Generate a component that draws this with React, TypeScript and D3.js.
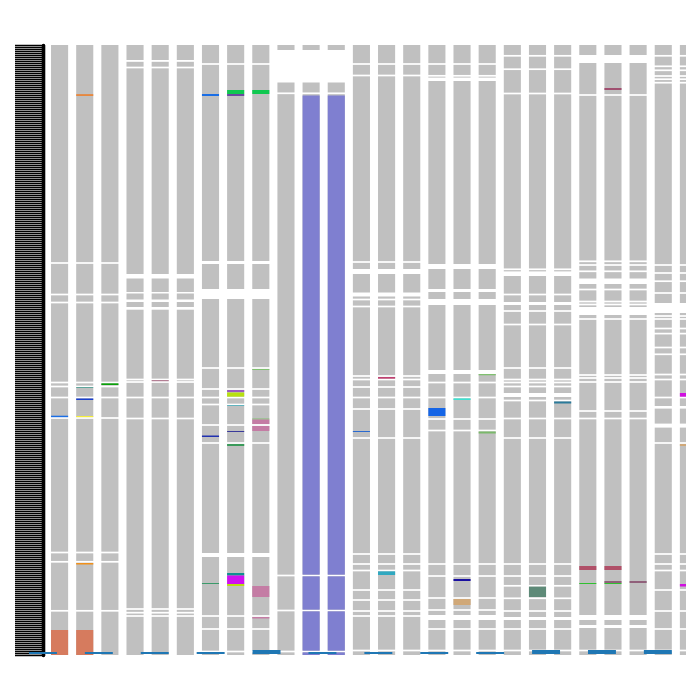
import React, { useRef, useEffect } from "react";
import * as d3 from "d3";

// column names (26 tracks, the last one is cut by the plot edge)
const columnNames = d3.range(1, 27).map((i) => `S${i}`);

// white separators per group of tracks; a number is a thin line, a pair is a wider gap
const gapsA = [218, 249.5, 257.5, 337.5, 341.5, 352.5, 373, 507.5, 516.8, 565.8];
const gapsB = [[15, 16.8], 22.5, [229, 233.5], [247, 248.5], [254.5, 257], [262, 264.7], 334.5, 337, 352.5, 373.5, 564, 567.7, 571];
const gapsC = [19, [216, 219], [244, 254], 323, 344, 352.5, 359.5, 380, 398, [508, 512], 571, 584, 606.5];
const gapsD = [[5, 37.5], 48.3, 530.5, 565.5, 606.5];
const gapsE = [19, 30.5, 217, [224, 229], [247.5, 251.5], 254.5, 261.5, 331, 334.5, 342, 352.5, 364, 393, 509, 519, 525.5, 545, 555, 566, 571, 605.5];
const gapsF = [19, 30.8, [32.6, 36], [219, 224], [244, 247], [254, 260], [325, 329], 337.5, 352.5, 374, 385.5, 519, 531, 553, 565, [570, 575], 584, 605.5];
const gapsG = [10.8, 24.2, 48.5, 224.3, [226.4, 231], 249.5, [257, 260], 266, 279.5, 323, 334.5, 337.5, 341.5, [348, 352], 355.5, 373.5, 393, 519, 531, 540.8, 553.3, 566, [572, 575], 584, 605.5];
const gapsH = [[10, 18], 50, 216.3, 220, 226.3, [233.5, 239], 244.5, 256.5, 259.5, [262, 270], 274, 330, 333, 337, 366, 373.5, [570, 575], [580, 583], 605.5];
const gapsI = [10.8, 21.3, 25.3, 31, 34.2, 37.7, 220, 228, 236.2, 248, [258, 268], 271, 274, 283.5, 288.6, 302.5, 309.3, 329.5, 334.5, 352.5, [361, 363.6], [378.6, 382.6], 398, 509, 519, 525.5, 545, 566, 584, 605.5];

const columnGaps = [
    gapsA, gapsA, gapsA, gapsB, gapsB, gapsB, gapsC, gapsC, gapsC,
    gapsD, gapsD, gapsD, gapsE, gapsE, gapsE, gapsF, gapsF, gapsF,
    gapsG, gapsG, gapsG, gapsH, gapsH, gapsH, gapsI, gapsI,
];

// coloured features: [column, start, end, colour]
const features: [string, number, number, string][] = [
    ["S1", 370.7, 372.7, "#1a6ee6"], ["S1", 585, 610, "#d67b5e"],
    ["S2", 49.3, 50.8, "#f07a20"], ["S2", 342, 343, "#1d8a7a"], ["S2", 353.5, 355, "#1a3fcc"],
    ["S2", 371, 372.8, "#f5ee3a"], ["S2", 518, 519.5, "#f0901a"], ["S2", 585, 610, "#d67b5e"],
    ["S3", 338, 340, "#0aa00a"],
    ["S5", 335, 337, "#a05070"],
    ["S7", 49, 51, "#1a6ee6"], ["S7", 390.5, 392, "#2030b0"], ["S7", 538, 539, "#3a9a6a"],
    ["S8", 45, 49, "#10c850"], ["S8", 49, 51, "#6a4aa0"], ["S8", 345, 347, "#9a5ac0"],
    ["S8", 347.5, 352, "#b8e010"], ["S8", 360, 361, "#20a0b0"], ["S8", 386, 387, "#3a3a9a"],
    ["S8", 399, 401, "#3a9a5a"], ["S8", 528, 530.5, "#109090"], ["S8", 530.5, 539, "#d010f0"],
    ["S8", 539, 541, "#b8e010"],
    ["S9", 45, 49, "#10c850"], ["S9", 324, 325, "#80c070"], ["S9", 373.5, 374.5, "#80c070"],
    ["S9", 374.5, 379, "#c47ca4"], ["S9", 381, 386, "#c47ca4"], ["S9", 541, 552, "#c47ca4"],
    ["S9", 572, 573.5, "#c47ca4"],
    ["S11", 50.5, 610, "#7f7fd0"], ["S12", 50.5, 610, "#7f7fd0"],
    ["S13", 386, 387, "#2a6ad0"],
    ["S14", 332, 334, "#c04070"], ["S14", 526, 530, "#30a8c0"],
    ["S16", 363, 371, "#1565e6"],
    ["S17", 353, 355, "#40e0d0"], ["S17", 534, 536, "#1a10a0"], ["S17", 554, 560, "#d0a878"],
    ["S18", 329, 330.3, "#80c070"], ["S18", 386.5, 388.5, "#7ab86a"],
    ["S20", 541, 552, "#5e8a78"],
    ["S21", 356.5, 358.5, "#2a7a9a"],
    ["S22", 521, 525, "#b05068"], ["S22", 538, 539, "#30c030"],
    ["S23", 43, 45, "#a05070"], ["S23", 521, 525, "#b05068"], ["S23", 536, 538, "#90607a"],
    ["S23", 538, 539, "#30c030"],
    ["S24", 536, 538, "#90607a"],
    ["S26", 348, 352, "#d010e0"], ["S26", 399, 401, "#d0a878"], ["S26", 539, 541.5, "#d010e0"],
];

// small blue bars along the bottom
const bottomNames = d3.range(1, 13).map((i) => `B${i}`);
const bottomValues = [1, 1, 1, 1, 2, 1, 1, 1, 1, 2, 2, 2];

const Y_MAX = 610;

const App: React.FC = () => {
    const axisRef = useRef<SVGGElement | null>(null);

    const y = d3.scaleLinear().domain([0, Y_MAX]).range([45, 655]);
    const x = d3.scaleBand().domain(columnNames).range([47, 701]).paddingInner(0.32).paddingOuter(0.16);
    const xb = d3.scaleBand().domain(bottomNames).range([15, 685.8]).paddingInner(0.5).paddingOuter(0.25);
    const yb = d3.scaleLinear().domain([0, 1]).range([654, 652]);

    useEffect(() => {
        const g = d3.select(axisRef.current);
        g.selectAll("*").remove();
        const axis = d3.axisLeft(y).ticks(300).tickSize(28).tickSizeOuter(0).tickFormat(() => "");
        g.call(axis);
        g.selectAll(".tick line").attr("stroke", "#000").attr("stroke-width", 1.5);
        g.select(".domain").attr("stroke", "#000").attr("stroke-width", 3.6).attr("stroke-linecap", "round");
    }, []);

    // turn gap list into gray segments
    const segmentsFor = (gaps: (number | number[])[]) => {
        const segs: [number, number][] = [];
        let prev = 0;
        gaps.forEach((g) => {
            const [a, b] = typeof g === "number" ? [g - 0.85, g + 0.85] : g;
            if (a > prev) segs.push([prev, a]);
            prev = b;
        });
        if (prev < Y_MAX) segs.push([prev, Y_MAX]);
        return segs;
    };

    const w = x.bandwidth();

    return (
        <svg width={700} height={700} style={{ position: "absolute", left: 0, top: 0, background: "#fff" }}>
            <defs>
                <clipPath id="plotClip">
                    <rect x={0} y={0} width={686} height={700} />
                </clipPath>
            </defs>
            <g clipPath="url(#plotClip)">
                {columnNames.map((name, i) => {
                    const segs = segmentsFor(columnGaps[i]);
                    const feats = features.filter((f) => f[0] === name);
                    const x0 = x(name) as number;
                    return (
                        <g key={name}>
                            {segs.map(([s, e], j) => (
                                <rect key={j} x={x0} y={y(s)} width={w} height={y(e) - y(s)} fill="#c0c0c0" />
                            ))}
                            {feats.map((f, k) =>
                                segs.map(([s, e], j) => {
                                    const a = Math.max(s, f[1]);
                                    const b = Math.min(e, f[2]);
                                    if (b <= a) return null;
                                    return <rect key={`${k}-${j}`} x={x0} y={y(a)} width={w} height={y(b) - y(a)} fill={f[3]} />;
                                })
                            )}
                        </g>
                    );
                })}
            </g>
            <g ref={axisRef} transform="translate(43,0)" />
            {bottomNames.map((name, i) => (
                <rect
                    key={name}
                    x={xb(name)}
                    y={yb(bottomValues[i])}
                    width={xb.bandwidth()}
                    height={yb(0) - yb(bottomValues[i])}
                    fill="#1f77b4"
                />
            ))}
        </svg>
    );
};

export default App;
